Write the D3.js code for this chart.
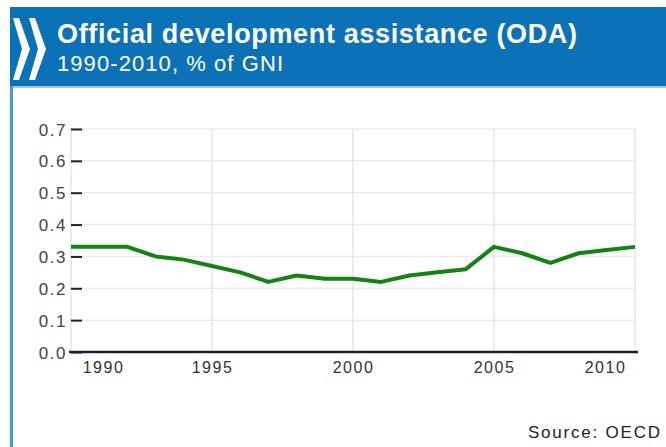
<!DOCTYPE html>
<html>
<head>
<meta charset="utf-8">
<script src="https://cdnjs.cloudflare.com/ajax/libs/d3/7.8.5/d3.min.js"></script>
<style>
  body { margin: 0; background: #fff; }
  svg { display: block; font-family: "Liberation Sans", Arial, sans-serif; }
</style>
</head>
<body>
<div id="main"></div>
<script>

const years = [1990, 1991, 1992, 1993, 1994, 1995, 1996, 1997, 1998, 1999, 2000,
               2001, 2002, 2003, 2004, 2005, 2006, 2007, 2008, 2009, 2010];
const oda = [0.33, 0.33, 0.33, 0.30, 0.29, 0.27, 0.25, 0.22, 0.24, 0.23, 0.23,
             0.22, 0.24, 0.25, 0.26, 0.33, 0.31, 0.28, 0.31, 0.32, 0.33];
const yTicks = [0, 0.1, 0.2, 0.3, 0.4, 0.5, 0.6, 0.7];
const xTicks = [1990, 1995, 2000, 2005, 2010];

const w = 666;
const h = 447;

const svg = d3.select('#main').append('svg').attr('width', w).attr('height', h);

// header
svg.append('rect').attr('x', 10).attr('y', 7).attr('width', w - 10).attr('height', 79).attr('fill', '#0b72b7');
svg.append('rect').attr('x', 10).attr('y', 86).attr('width', w - 10).attr('height', 2).attr('fill', '#9cc8e8');
svg.append('rect').attr('x', 10).attr('y', 86).attr('width', 3).attr('height', h - 86).attr('fill', '#3d9bdb');

// chevrons
const chev = (x0) => `M${x0},18 L${x0 + 6},18 L${x0 + 17},49 L${x0 + 6},80 L${x0},80 L${x0 + 9},49 Z`;
svg.append('path').attr('d', chev(13)).attr('fill', '#fff');
svg.append('path').attr('d', chev(29)).attr('fill', '#fff');

svg.append('text').attr('x', 57).attr('y', 43)
    .attr('fill', '#fff').style('font-size', '27px').style('font-weight', 'bold')
    .attr('textLength', 520).attr('lengthAdjust', 'spacing')
    .text('Official development assistance (ODA)');
svg.append('text').attr('x', 57).attr('y', 71)
    .attr('fill', '#fff').style('font-size', '22px')
    .attr('textLength', 226).attr('lengthAdjust', 'spacing')
    .text('1990-2010, % of GNI');

// scales
const xScale = d3.scaleLinear().domain([1990, 2010]).range([71, 635]);
const yScale = d3.scaleLinear().domain([0, 0.7]).range([352, 129]);

// grid
const grid = svg.append('g');
grid.selectAll('line.h').data(yTicks.slice(1)).enter().append('line')
    .attr('x1', 71).attr('x2', 637)
    .attr('y1', d => yScale(d)).attr('y2', d => yScale(d))
    .attr('stroke', '#ebebeb').attr('stroke-width', 1.5);
grid.selectAll('line.v').data(xTicks).enter().append('line')
    .attr('x1', d => xScale(d)).attr('x2', d => xScale(d))
    .attr('y1', yScale(0.7)).attr('y2', yScale(0))
    .attr('stroke', '#e6e6e6').attr('stroke-width', 1.5);

// y axis
const yAxis = d3.axisRight(yScale).tickValues(yTicks).tickFormat(d3.format('.1f')).tickSize(11);
const gy = svg.append('g').attr('transform', 'translate(71,0)').call(yAxis);
gy.select('.domain').remove();
gy.selectAll('line').attr('stroke', '#222').attr('stroke-width', 2);
gy.selectAll('text').attr('x', -4).attr('dy', '0.36em').style('text-anchor', 'end')
    .attr('fill', '#444').style('font-size', '17px').style('letter-spacing', '1.5px');

// x axis
const xAxis = d3.axisBottom(xScale).tickValues(xTicks).tickFormat(d3.format('d')).tickSize(0);
const gx = svg.append('g').attr('transform', `translate(0,${yScale(0)})`).call(xAxis);
gx.select('.domain').attr('d', 'M69,0H638').attr('stroke', '#222').attr('stroke-width', 2.5);
gx.selectAll('text').attr('y', 10).attr('fill', '#333').style('font-size', '16px')
    .style('letter-spacing', '1.5px')
    .attr('dx', d => d === 1990 ? 32 : d === 2010 ? -30 : 0);

// line
const line = d3.line().x((d, i) => xScale(years[i])).y(d => yScale(d));
svg.append('path').datum(oda).attr('d', line)
    .attr('fill', 'none').attr('stroke', '#138413').attr('stroke-width', 4)
    .attr('stroke-linejoin', 'round');

// source
svg.append('text').attr('x', 660).attr('y', 438).style('text-anchor', 'end')
    .attr('fill', '#222').style('font-size', '17px')
    .attr('textLength', 132).attr('lengthAdjust', 'spacing')
    .text('Source: OECD');

</script>
</body>
</html>
